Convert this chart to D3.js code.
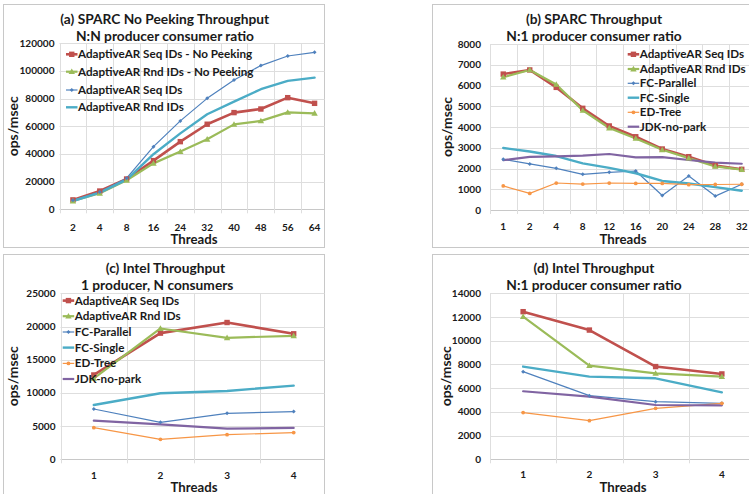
<!DOCTYPE html>
<html><head><meta charset="utf-8">
<script src="https://cdn.jsdelivr.net/npm/d3@7"></script>
<style>
body{margin:0;background:#fff}
svg{display:block}
text{font-family:Lato,"Open Sans",sans-serif;font-weight:bold;fill:#1a1a1a}
</style></head>
<body><svg id="chart" width="749" height="494"></svg>
<script>
// ---------- DATA ----------
const catsA = ["2","4","8","16","24","32","40","48","56","64"];
const aSeqNoPeek = [6800,13200,21900,35200,48900,61500,69900,72500,80700,76600];
const aRndNoPeek = [6000,11600,21000,33200,41700,50600,61400,63900,70100,69400];
const aSeq       = [6500,12500,22500,45300,63900,80200,93500,103900,110800,113500];
const aRnd       = [6000,12000,21500,39800,54900,68700,77800,86800,92800,95200];

const catsB = ["1","2","4","8","12","16","20","24","28","32"];
const bSeq   = [6550,6750,5910,4900,4050,3530,2940,2570,2140,1960];
const bRnd   = [6400,6750,6050,4800,3950,3450,2900,2500,2100,1950];
const bFCPar = [2440,2220,2010,1720,1815,1880,700,1640,670,1240];
const bFCSin = [2990,2820,2600,2250,2030,1770,1400,1280,1100,930];
const bED    = [1160,800,1300,1250,1300,1280,1280,1220,1230,1240];
const bJDK   = [2400,2560,2580,2620,2700,2540,2550,2410,2280,2230];

const catsC = ["1","2","3","4"];
const cSeq   = [12700,19000,20600,18900];
const cRnd   = [12200,19700,18300,18600];
const cFCPar = [7580,5570,6930,7180];
const cFCSin = [8180,9940,10290,11090];
const cED    = [4770,3010,3710,4020];
const cJDK   = [5820,5270,4620,4720];

const catsD = ["1","2","3","4"];
const dSeq   = [12450,10900,7820,7200];
const dRnd   = [12030,7900,7250,6970];
const dFCPar = [7390,5370,4860,4720];
const dFCSin = [7820,6970,6830,5650];
const dED    = [3940,3260,4300,4720];
const dJDK   = [5740,5290,4580,4550];

const titlesA = ["(a) SPARC No Peeking Throughput","N:N producer consumer ratio"];
const titlesB = ["(b) SPARC Throughput","N:1 producer consumer ratio"];
const titlesC = ["(c) Intel Throughput","1 producer, N consumers"];
const titlesD = ["(d) Intel Throughput","N:1 producer consumer ratio"];
const yLabel = "ops/msec";
const xLabel = "Threads";

// ---------- STYLES ----------
const S = {
  red:   {color:"#c0504d", w:2.6, marker:"square"},
  green: {color:"#9bbb59", w:2.2, marker:"triangle"},
  blue:  {color:"#4f81bd", w:1.2, marker:"diamond"},
  cyan:  {color:"#4bacc6", w:2.4, marker:null},
  orange:{color:"#f79646", w:1.2, marker:"circle"},
  purple:{color:"#8064a2", w:2.2, marker:null}
};

const panels = [
  {frame:[3.5,4.5,321,243], plot:[59.5,43.3,328,209.3], cats:catsA, yMax:120000, yStep:20000, tickGap:5,
   titles:titlesA, tcx:[164.7,165], tcy:[19,36], ylx:13, xly:239.5, xlx:194, xtky:227,
   legend:{x:66, ys:[54.3,71.7,90,107.3]},
   series:[
     {name:"AdaptiveAR Seq IDs - No Peeking", v:aSeqNoPeek, s:"red"},
     {name:"AdaptiveAR Rnd IDs - No Peeking", v:aRndNoPeek, s:"green"},
     {name:"AdaptiveAR Seq IDs", v:aSeq, s:"blue"},
     {name:"AdaptiveAR Rnd IDs", v:aRnd, s:"cyan"}]},
  {frame:[432.5,4.5,330,243], plot:[490,44,755,210], cats:catsB, yMax:8000, yStep:1000, tickGap:9,
   titles:titlesB, tcx:[594,594], tcy:[19,36], ylx:446.7, xly:239.5, xlx:623, xtky:226,
   legend:{x:627.7, ys:[54.3,69,83.3,97.7,112.3,126.7]},
   series:[
     {name:"AdaptiveAR Seq IDs", v:bSeq, s:"red"},
     {name:"AdaptiveAR Rnd IDs", v:bRnd, s:"green"},
     {name:"FC-Parallel", v:bFCPar, s:"blue"},
     {name:"FC-Single", v:bFCSin, s:"cyan"},
     {name:"ED-Tree", v:bED, s:"orange"},
     {name:"JDK-no-park", v:bJDK, s:"purple"}]},
  {frame:[3.5,254.5,321,250], plot:[60.5,293.3,327,459.3], cats:catsC, yMax:25000, yStep:5000, tickGap:5,
   titles:titlesC, tcx:[165.5,157.2], tcy:[267.8,285.5], ylx:13, xly:487, xlx:194, xtky:475.3,
   legend:{x:62.7, ys:[300.6,316.2,332,347.6,363.4,379]},
   series:[
     {name:"AdaptiveAR Seq IDs", v:cSeq, s:"red"},
     {name:"AdaptiveAR Rnd IDs", v:cRnd, s:"green"},
     {name:"FC-Parallel", v:cFCPar, s:"blue"},
     {name:"FC-Single", v:cFCSin, s:"cyan"},
     {name:"ED-Tree", v:cED, s:"orange"},
     {name:"JDK-no-park", v:cJDK, s:"purple"}]},
  {frame:[432.5,254.5,330,250], plot:[490,293.3,755,459.3], cats:catsD, yMax:14000, yStep:2000, tickGap:9,
   titles:titlesD, tcx:[594,594], tcy:[267.8,285.5], ylx:446.5, xly:487, xlx:623, xtky:474.8,
   legend:null,
   series:[
     {name:"AdaptiveAR Seq IDs", v:dSeq, s:"red"},
     {name:"AdaptiveAR Rnd IDs", v:dRnd, s:"green"},
     {name:"FC-Parallel", v:dFCPar, s:"blue"},
     {name:"FC-Single", v:dFCSin, s:"cyan"},
     {name:"ED-Tree", v:dED, s:"orange"},
     {name:"JDK-no-park", v:dJDK, s:"purple"}]}
];

const svg = d3.select("#chart");

// font sizing by measuring reference strings
function sizeFor(str, targetW, base){
  const t = svg.append("text").attr("font-size", base).text(str);
  const w = t.node().getComputedTextLength();
  t.remove();
  return base*targetW/w;
}
const fsTitle  = sizeFor("(a) SPARC No Peeking Throughput", 209, 14);
const fsLegend = sizeFor("AdaptiveAR Rnd IDs", 106, 12);
const fsTick   = sizeFor("120000", 35, 11);
const fsXL     = sizeFor("Threads", 47, 14);
const fsYL     = sizeFor("ops/msec", 60, 14);

function marker(g, type, x, y, color){
  if(type==="square"){
    g.append("rect").attr("x",x-2.7).attr("y",y-2.7).attr("width",5.4).attr("height",5.4).attr("fill",color);
  } else if(type==="triangle"){
    g.append("path").attr("d",`M${x},${y-3.2}L${x+3.2},${y+2.4}L${x-3.2},${y+2.4}Z`).attr("fill",color);
  } else if(type==="diamond"){
    g.append("path").attr("d",`M${x},${y-2}L${x+2},${y}L${x},${y+2}L${x-2},${y}Z`).attr("fill",color);
  } else if(type==="circle"){
    g.append("circle").attr("cx",x).attr("cy",y).attr("r",1.9).attr("fill",color);
  }
}

panels.forEach(p=>{
  const g = svg.append("g");
  const [L,T,R,B] = p.plot;
  const x = d3.scaleBand().domain(p.cats).range([L,R]);
  const y = d3.scaleLinear().domain([0,p.yMax]).range([B,T]);
  const ticks = d3.range(0, p.yMax+1, p.yStep);

  // frame
  g.append("rect").attr("x",p.frame[0]).attr("y",p.frame[1]).attr("width",p.frame[2]).attr("height",p.frame[3])
    .attr("fill","#fff").attr("stroke","#c8c8c8").attr("stroke-width",1);

  const clip = "clip"+Math.round(L)+Math.round(T);
  svg.append("clipPath").attr("id",clip).append("rect")
    .attr("x",p.frame[0]).attr("y",p.frame[1]).attr("width",p.frame[2]).attr("height",p.frame[3]);
  const pg = g.append("g").attr("clip-path",`url(#${clip})`);

  // gridlines
  pg.selectAll(".hg").data(ticks).join("line")
    .attr("x1",L).attr("x2",R).attr("y1",d=>Math.round(y(d))+0.5).attr("y2",d=>Math.round(y(d))+0.5)
    .attr("stroke",d=>d===0?"#c8c8c8":"#dedede").attr("stroke-width",1);
  const bounds = p.cats.map(c=>x(c)).concat([R]);
  pg.selectAll(".vg").data(bounds).join("line")
    .attr("x1",d=>Math.round(d)+0.5).attr("x2",d=>Math.round(d)+0.5).attr("y1",T).attr("y2",B+4)
    .attr("stroke","#dedede").attr("stroke-width",1);

  // y tick labels
  g.selectAll(".yt").data(ticks).join("text")
    .attr("x",L-p.tickGap).attr("y",d=>y(d)+fsTick*0.35).attr("text-anchor","end")
    .attr("font-size",fsTick).text(d=>d);
  // x tick labels
  g.selectAll(".xt").data(p.cats).join("text")
    .attr("x",d=>x(d)+x.bandwidth()/2).attr("y",p.xtky+fsTick*0.35).attr("text-anchor","middle")
    .attr("font-size",fsTick).text(d=>d);

  // axis titles
  g.append("text").attr("x",p.xlx).attr("y",p.xly+fsXL*0.35).attr("text-anchor","middle")
    .attr("font-size",fsXL).text(xLabel);
  g.append("text").attr("transform",`translate(${p.ylx+fsYL*0.35},${(T+B)/2}) rotate(-90)`)
    .attr("text-anchor","middle").attr("font-size",fsYL).text(yLabel);

  // titles
  p.titles.forEach((t,i)=>{
    g.append("text").attr("x",p.tcx[i]).attr("y",p.tcy[i]+fsTitle*0.35).attr("text-anchor","middle")
      .attr("font-size",fsTitle).text(t);
  });

  // series
  const line = d3.line().x((d,i)=>x(p.cats[i])+x.bandwidth()/2).y(d=>y(d));
  p.series.forEach(s=>{
    const st = S[s.s];
    pg.append("path").attr("d",line(s.v)).attr("fill","none").attr("stroke",st.color)
      .attr("stroke-width",st.w).attr("stroke-linejoin","round").attr("stroke-linecap","round");
  });
  p.series.forEach(s=>{
    const st = S[s.s];
    if(st.marker) s.v.forEach((v,i)=>marker(pg, st.marker, x(p.cats[i])+x.bandwidth()/2, y(v), st.color));
  });

  // legend
  if(p.legend){
    p.series.forEach((s,i)=>{
      const st = S[s.s];
      const ly = p.legend.ys[i];
      const lx = p.legend.x;
      g.append("line").attr("x1",lx).attr("x2",lx+11.5).attr("y1",ly).attr("y2",ly)
        .attr("stroke",st.color).attr("stroke-width",st.w);
      if(st.marker) marker(g, st.marker, lx+5.75, ly, st.color);
      g.append("text").attr("x",lx+12).attr("y",ly+fsLegend*0.35).attr("font-size",fsLegend).text(s.name);
    });
  }
});
</script>
</body></html>
